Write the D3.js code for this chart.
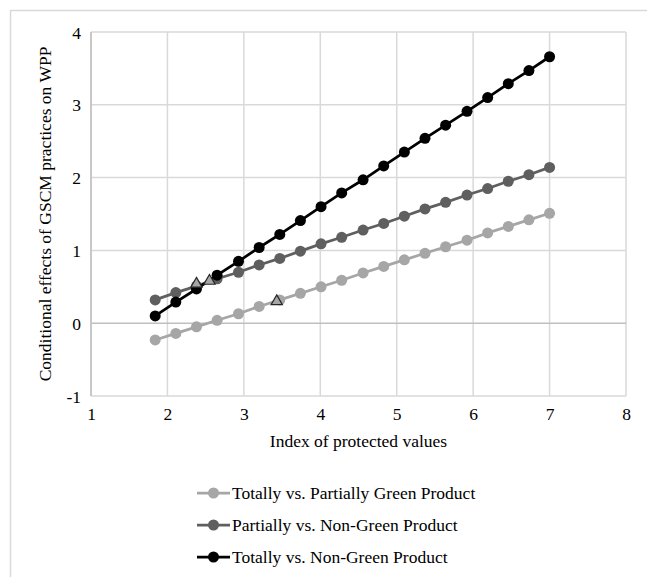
<!DOCTYPE html>
<html><head><meta charset="utf-8">
<script src="https://cdn.jsdelivr.net/npm/d3@7"></script>
<style>body{margin:0;background:#fff}svg{display:block}</style>
</head><body>
<script>
const xValues = [1.84,2.11,2.38,2.65,2.93,3.20,3.47,3.74,4.01,4.28,4.56,4.83,5.10,5.37,5.64,5.92,6.19,6.46,6.73,7.00];
const seriesNames = ["Totally vs. Partially Green Product","Partially vs. Non-Green Product","Totally vs. Non-Green Product"];
const totPartial = [-0.23,-0.14,-0.05,0.04,0.13,0.23,0.32,0.41,0.50,0.59,0.69,0.78,0.87,0.96,1.05,1.14,1.24,1.33,1.42,1.51];
const partNon = [0.32,0.42,0.51,0.61,0.70,0.80,0.89,0.99,1.09,1.18,1.28,1.37,1.47,1.57,1.66,1.76,1.85,1.95,2.04,2.14];
const totNon = [0.10,0.29,0.47,0.66,0.85,1.04,1.22,1.41,1.60,1.79,1.97,2.16,2.35,2.54,2.72,2.91,3.10,3.29,3.47,3.66];
const triX = [2.38,2.55,3.43];
const triY = [0.54,0.58,0.30];
const xTicks = [1,2,3,4,5,6,7,8];
const yTicks = [-1,0,1,2,3,4];
const colors = ["#a6a6a6","#5f5f5f","#000000"];

const W=647,H=577,FS=17.5,FF="Liberation Serif";
const svg=d3.select("body").append("svg").attr("width",W).attr("height",H);
svg.append("path").attr("d","M10.5,"+H+"V10.5H"+W).attr("fill","none").attr("stroke","#d9d9d9").attr("stroke-width",1.5);

const x=d3.scaleLinear().domain([1,8]).range([91,626]);
const y=d3.scaleLinear().domain([-1,4]).range([396,32]);

const g=svg.append("g");
g.selectAll(".vg").data(xTicks).join("line").attr("x1",d=>x(d)).attr("x2",d=>x(d)).attr("y1",y(4)).attr("y2",y(-1)).attr("stroke","#d9d9d9").attr("stroke-width",1.5);
g.selectAll(".hg").data(yTicks.filter(d=>d!==0)).join("line").attr("x1",x(1)).attr("x2",x(8)).attr("y1",d=>y(d)).attr("y2",d=>y(d)).attr("stroke","#d9d9d9").attr("stroke-width",1.5);
g.append("line").attr("x1",x(1)).attr("x2",x(8)).attr("y1",y(0)).attr("y2",y(0)).attr("stroke","#bfbfbf").attr("stroke-width",1.5);
g.append("line").attr("x1",x(1)).attr("x2",x(1)).attr("y1",y(4)).attr("y2",y(-1)).attr("stroke","#bfbfbf").attr("stroke-width",1.5);

const fmt=d=>String(d);
const yAxis=svg.append("g").attr("transform","translate("+(x(1)-10)+",0)").call(d3.axisLeft(y).tickValues(yTicks).tickFormat(fmt).tickSize(0).tickPadding(0));
yAxis.select(".domain").remove();
yAxis.attr("font-family",FF).attr("font-size",FS);
yAxis.selectAll("text").attr("font-family",FF).attr("font-size",FS).attr("fill","#000").attr("dy","0.35em");
const xAxis=svg.append("g").attr("transform","translate(0,"+(y(-1)+12)+")").call(d3.axisBottom(x).tickValues(xTicks).tickFormat(fmt).tickSize(0).tickPadding(0));
xAxis.select(".domain").remove();
xAxis.attr("font-family",FF).attr("font-size",FS);
xAxis.selectAll("text").attr("font-family",FF).attr("font-size",FS).attr("fill","#000").attr("dy","0.71em");

svg.append("text").attr("x",(x(1)+x(8))/2).attr("y",447).attr("text-anchor","middle").attr("font-family",FF).attr("font-size",FS).text("Index of protected values");
svg.append("text").attr("transform","translate(51,"+((y(4)+y(-1))/2)+") rotate(-90)").attr("text-anchor","middle").attr("font-family",FF).attr("font-size",FS).text("Conditional effects of GSCM practices on WPP");

const all=[totPartial,partNon,totNon];
const line=d3.line().x((d,i)=>x(xValues[i])).y(d=>y(d));
all.forEach((s,k)=>{
  const sg=svg.append("g");
  sg.append("path").datum(s).attr("d",line).attr("fill","none").attr("stroke",colors[k]).attr("stroke-width",2.75);
  sg.selectAll("circle").data(s).join("circle").attr("cx",(d,i)=>x(xValues[i])).attr("cy",d=>y(d)).attr("r",5.5).attr("fill",colors[k]);
});
svg.selectAll(".tri").data(triX).join("path").attr("class","tri")
  .attr("transform",(d,i)=>"translate("+x(d)+","+y(triY[i])+")")
  .attr("d",d3.symbol().type(d3.symbolTriangle).size(55))
  .attr("fill","#a6a6a6").attr("stroke","#262626").attr("stroke-width",1.2);

const lg=svg.append("g");
const rows=[493,525,557];
seriesNames.forEach((n,k)=>{
  lg.append("line").attr("x1",197).attr("x2",230).attr("y1",rows[k]).attr("y2",rows[k]).attr("stroke",colors[k]).attr("stroke-width",2.75);
  lg.append("circle").attr("cx",213.5).attr("cy",rows[k]).attr("r",5.5).attr("fill",colors[k]);
  lg.append("text").attr("x",232).attr("y",rows[k]).attr("dy","0.35em").attr("font-family",FF).attr("font-size",FS).text(n);
});
</script>
</body></html>
